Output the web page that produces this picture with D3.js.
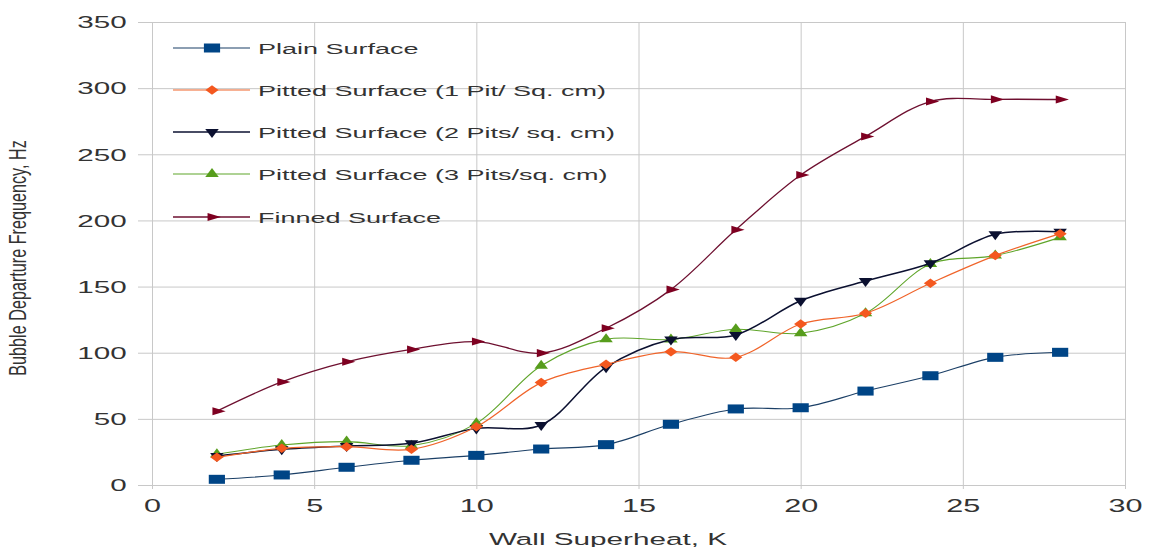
<!DOCTYPE html>
<html>
<head>
<meta charset="utf-8">
<script src="https://cdn.jsdelivr.net/npm/d3@7"></script>
<style>
  body { margin: 0; background: #fff; }
  text { font-family: "Liberation Sans", Arial, sans-serif; fill: #333; }
</style>
</head>
<body>
<div id="chart"></div>
<script>
// chart data
var superheat = [2, 4, 6, 8, 10, 12, 14, 16, 18, 20, 22, 24, 26, 28];
var plain  = [4.3, 7.6, 13.4, 18.7, 22.4, 27.2, 30.5, 45.9, 57.5, 58.4, 71, 82.6, 96.5, 100.3];
var pit1   = [20.9, 27.7, 29, 27, 44, 77.4, 91.2, 100.8, 96.5, 121.7, 129.8, 152.5, 173.4, 190];
var pit2   = [21.9, 27, 29.5, 31.5, 42.8, 45.4, 89, 110, 113.4, 139.3, 154.2, 167.6, 189.5, 191.5];
var pit3   = [23.2, 30.2, 32.8, 29.7, 46.6, 90.2, 110.1, 110, 117.7, 114.7, 129.8, 167, 173.4, 187.2];
var finned = [55.8, 77.9, 93.1, 102.5, 108.4, 99.7, 118.5, 147.7, 192.9, 234.3, 263.5, 289.9, 291.5, 291.4];

var xTicks = [0, 5, 10, 15, 20, 25, 30];
var yTicks = [0, 50, 100, 150, 200, 250, 300, 350];

var seriesNames = [
  "Plain Surface",
  "Pitted Surface (1 Pit/ Sq. cm)",
  "Pitted Surface (2 Pits/ sq. cm)",
  "Pitted Surface (3 Pits/sq. cm)",
  "Finned Surface"
];

// set the dimensions and margins of the graph
var margin = { top: 22, right: 27, bottom: 62, left: 152 },
  width = 1152 - margin.left - margin.right,
  height = 547 - margin.top - margin.bottom;

var TS = 1.8; // the picture is stretched sideways, text follows

// style for each series: colour, marker shape and its stretch
var styles = [
  { color: "#004586", line: "#1b3f66", lw: 1.1, sym: d3.symbolSquare, size: 81, sx: 1.8, rot: 0 },
  { color: "#f4581f", line: "#f0642a", lw: 1.2, sym: d3.symbolDiamond, size: 26, sx: 2.4, rot: 0 },
  { color: "#0b1030", line: "#0b1030", lw: 1.5, sym: d3.symbolTriangle, size: 47, sx: 1.3, rot: 180 },
  { color: "#579d1c", line: "#5fa52a", lw: 1.1, sym: d3.symbolTriangle, size: 47, sx: 1.3, rot: 0 },
  { color: "#7e0021", line: "#6e1030", lw: 1.3, sym: d3.symbolTriangle, size: 28, sx: 1.9, rot: 90 }
];
var values = [plain, pit1, pit2, pit3, finned];

var svg = d3.select("#chart")
  .append("svg")
  .attr("width", 1152)
  .attr("height", 547)
  .append("g")
  .attr("transform", "translate(" + margin.left + "," + margin.top + ")");

var x = d3.scaleLinear().domain([0, 30]).range([0, width]);
var y = d3.scaleLinear().domain([0, 350]).range([height, 0]);

// Y grid + labels
var yAxis = svg.append("g")
  .attr("transform", "translate(-14,0)")
  .call(d3.axisLeft(y).tickValues(yTicks).tickSize(-(width + 14)).tickPadding(11));
yAxis.select(".domain").remove();
yAxis.selectAll("line").attr("stroke", "#c8c8c8");
yAxis.selectAll("text")
  .style("font-size", "16px")
  .attr("fill", "#333")
  .attr("x", -11 / TS)
  .attr("dy", "0.36em")
  .attr("transform", "scale(" + 1.85 + ",1)");

// X grid + labels
var xAxis = svg.append("g")
  .attr("transform", "translate(0," + (height + 4) + ")")
  .call(d3.axisBottom(x).tickValues(xTicks).tickSize(-(height + 4)).tickPadding(10));
xAxis.select(".domain").remove();
xAxis.selectAll("line").attr("stroke", "#c8c8c8");
xAxis.selectAll("text")
  .style("font-size", "18px")
  .attr("fill", "#333")
  .attr("transform", "scale(1.7,1)");

// Axis titles
svg.append("text")
  .attr("transform", "translate(" + (608 - margin.left) + "," + (545 - margin.top) + ") scale(1.8,1)")
  .attr("text-anchor", "middle")
  .style("font-size", "16.5px")
  .text("Wall Superheat, K");

svg.append("text")
  .attr("transform", "translate(" + (26 - margin.left) + "," + (258 - margin.top) + ") rotate(-90) scale(0.9,1.3)")
  .attr("text-anchor", "middle")
  .style("font-size", "18px")
  .text("Bubble Departure Frequency, Hz");

var line = d3.line()
  .x(function (d) { return x(d[0]); })
  .y(function (d) { return y(d[1]); })
  .curve(d3.curveCatmullRom.alpha(0.5));

function markerTransform(px, py, s) {
  return "translate(" + px + "," + py + ") scale(" + s.sx + ",1) rotate(" + s.rot + ")";
}

// draw order: finned first, then pitted, plain
var order = [4, 0, 3, 2, 1];
order.forEach(function (i) {
  var s = styles[i];
  var pts = superheat.map(function (v, j) { return [v, values[i][j]]; });
  var g = svg.append("g");
  g.append("path")
    .datum(pts)
    .attr("fill", "none")
    .attr("stroke", s.line)
    .attr("stroke-width", s.lw)
    .attr("d", line);
  g.selectAll("path.mk")
    .data(pts)
    .enter().append("path")
    .attr("class", "mk")
    .attr("d", d3.symbol(s.sym, s.size))
    .attr("fill", s.color)
    .attr("transform", function (d) { return markerTransform(x(d[0]), y(d[1]), s); });
});

// Legend
var legendRows = [48, 90, 132, 174, 217];
var legend = svg.append("g").attr("transform", "translate(" + (-margin.left) + "," + (-margin.top) + ")");
seriesNames.forEach(function (name, i) {
  var s = styles[i];
  var ly = legendRows[i];
  legend.append("line")
    .attr("x1", 173).attr("x2", 250)
    .attr("y1", ly).attr("y2", ly)
    .attr("stroke", s.line)
    .attr("stroke-width", s.lw);
  legend.append("path")
    .attr("d", d3.symbol(s.sym, s.size))
    .attr("fill", s.color)
    .attr("transform", markerTransform(212, ly, s));
  legend.append("text")
    .attr("transform", "translate(258," + (ly + 5.5) + ") scale(" + TS + ",1)")
    .style("font-size", "15px")
    .text(name);
});
</script>
</body>
</html>
